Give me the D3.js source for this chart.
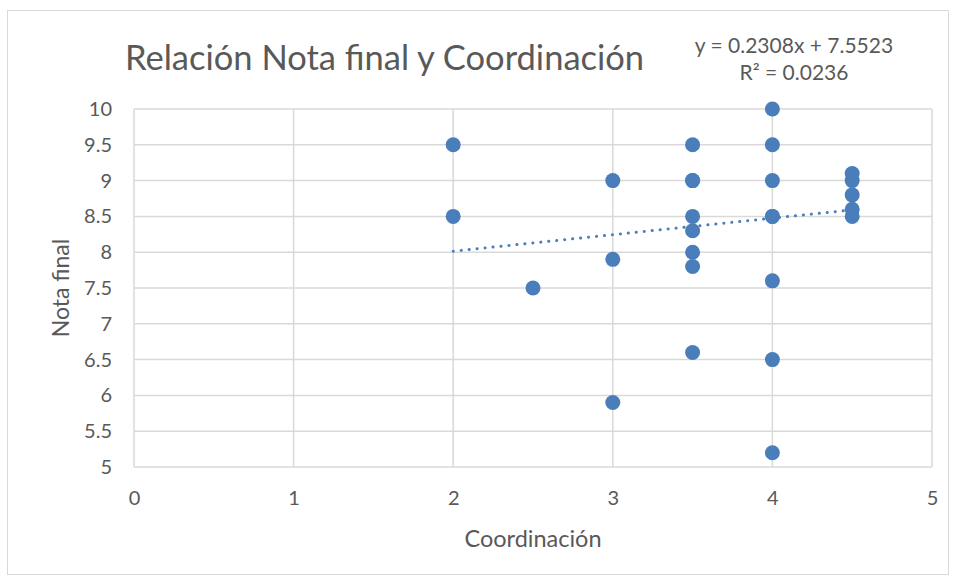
<!DOCTYPE html>
<html>
<head>
<meta charset="utf-8">
<script src="https://cdn.jsdelivr.net/npm/d3@7"></script>
<style>
	body { margin: 0; background: #fff; }
	text { font-family: Lato, "Open Sans", sans-serif; fill: #595959; }
</style>
</head>
<body>
<div id="chart"></div>
<script>
// Coordinación (x) and Nota final (y) of each student
const coordinacion = [2, 2, 2.5, 3, 3, 3, 3.5, 3.5, 3.5, 3.5, 3.5, 3.5, 3.5, 3.5, 4, 4, 4, 4, 4, 4, 4, 4, 4.5, 4.5, 4.5, 4.5, 4.5];
const notaFinal = [9.5, 8.5, 7.5, 9, 7.9, 5.9, 9.5, 9, 9, 8.5, 8.3, 8, 7.8, 6.6, 10, 9.5, 9, 8.5, 8.5, 7.6, 6.5, 5.2, 9.1, 9, 8.8, 8.6, 8.5];

const xTicks = [0, 1, 2, 3, 4, 5];
const yTicks = [5, 5.5, 6, 6.5, 7, 7.5, 8, 8.5, 9, 9.5, 10];

// Linear trend line from the chart label
const slope = 0.2308;
const intercept = 7.5523;
const r2 = 0.0236;

const width = 955;
const height = 578;
const margin = { top: 109, right: 23, bottom: 111, left: 134 };

const svg = d3.select("#chart")
	.append("svg")
	.attr("width", width)
	.attr("height", height);

// Chart border
svg.append("rect")
	.attr("x", 7.5)
	.attr("y", 10.5)
	.attr("width", 941)
	.attr("height", 564)
	.attr("fill", "#fff")
	.attr("stroke", "#d9d9d9")
	.attr("stroke-width", 1);

const x = d3.scaleLinear()
	.domain([0, 5])
	.range([margin.left, width - margin.right]);

const y = d3.scaleLinear()
	.domain([5, 10])
	.range([height - margin.bottom, margin.top]);

// Gridlines
svg.append("g")
	.selectAll("line")
	.data(yTicks)
	.join("line")
	.attr("x1", x(0))
	.attr("x2", x(5))
	.attr("y1", (d) => y(d))
	.attr("y2", (d) => y(d))
	.attr("stroke", "#d9d9d9")
	.attr("stroke-width", 1.5);

svg.append("g")
	.selectAll("line")
	.data(xTicks)
	.join("line")
	.attr("x1", (d) => x(d))
	.attr("x2", (d) => x(d))
	.attr("y1", y(5))
	.attr("y2", y(10))
	.attr("stroke", "#d9d9d9")
	.attr("stroke-width", 1.5);

// Axes (labels only, Excel style)
const xAxis = svg.append("g")
	.attr("transform", `translate(0,${y(5)})`)
	.call(d3.axisBottom(x).tickValues(xTicks).tickSize(0).tickPadding(24).tickFormat(d3.format("d")));
xAxis.select(".domain").remove();
xAxis.selectAll("text").style("font-size", "20px").attr("fill", "#595959");

const yAxis = svg.append("g")
	.attr("transform", `translate(${x(0)},0)`)
	.call(d3.axisLeft(y).tickValues(yTicks).tickSize(0).tickPadding(22).tickFormat((d) => String(d)));
yAxis.select(".domain").remove();
yAxis.selectAll("text").style("font-size", "20px").attr("fill", "#595959");

// Trend line (dotted)
const xExtent = d3.extent(coordinacion);
svg.append("line")
	.attr("x1", x(xExtent[0]))
	.attr("y1", y(slope * xExtent[0] + intercept))
	.attr("x2", x(xExtent[1]))
	.attr("y2", y(slope * xExtent[1] + intercept))
	.attr("stroke", "#4a7ebb")
	.attr("stroke-width", 3)
	.attr("stroke-linecap", "round")
	.attr("stroke-dasharray", "0.1 7.9");

// Points
svg.append("g")
	.selectAll("circle")
	.data(coordinacion.map((c, i) => ({ x: c, y: notaFinal[i] })))
	.join("circle")
	.attr("cx", (d) => x(d.x))
	.attr("cy", (d) => y(d.y))
	.attr("r", 7.5)
	.attr("fill", "#4a7ebb");

// Title
svg.append("text")
	.attr("x", 125)
	.attr("y", 70)
	.style("font-size", "34.5px")
	.text("Relación Nota final y Coordinación");

// Trend label
svg.append("text")
	.attr("x", 794)
	.attr("y", 53)
	.attr("text-anchor", "middle")
	.style("font-size", "21px")
	.text(`y = ${slope}x + ${intercept}`);

svg.append("text")
	.attr("x", 794)
	.attr("y", 80)
	.attr("text-anchor", "middle")
	.style("font-size", "21px")
	.text(`R² = ${r2}`);

// Axis titles
svg.append("text")
	.attr("x", (x(0) + x(5)) / 2)
	.attr("y", 547)
	.attr("text-anchor", "middle")
	.style("font-size", "23.5px")
	.text("Coordinación");

svg.append("text")
	.attr("transform", `translate(69,${(y(5) + y(10)) / 2}) rotate(-90)`)
	.attr("text-anchor", "middle")
	.style("font-size", "23px")
	.text("Nota final");
</script>
</body>
</html>
